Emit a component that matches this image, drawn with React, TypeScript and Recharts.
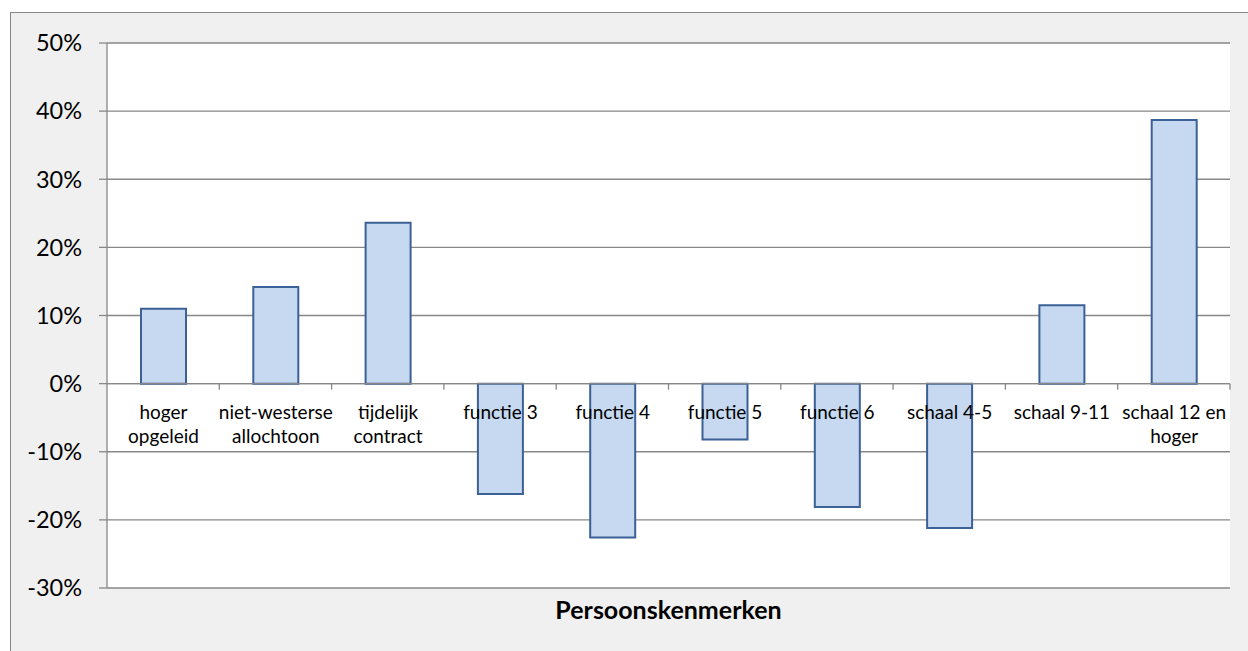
import React from "react";
import {
  Bar,
  BarChart,
  CartesianGrid,
  LabelList,
  ReferenceLine,
  XAxis,
  YAxis,
} from "recharts";

const categories = [
  "hoger opgeleid",
  "niet-westerse allochtoon",
  "tijdelijk contract",
  "functie 3",
  "functie 4",
  "functie 5",
  "functie 6",
  "schaal 4-5",
  "schaal 9-11",
  "schaal 12 en hoger",
];

// how Excel wrapped the category labels
const labelLines = [
  ["hoger", "opgeleid"],
  ["niet-westerse", "allochtoon"],
  ["tijdelijk", "contract"],
  ["functie 3"],
  ["functie 4"],
  ["functie 5"],
  ["functie 6"],
  ["schaal 4-5"],
  ["schaal 9-11"],
  ["schaal 12 en", "hoger"],
];

const values = [0.11, 0.142, 0.236, -0.162, -0.226, -0.082, -0.181, -0.212, 0.115, 0.387];

const yTicks = [-0.3, -0.2, -0.1, 0, 0.1, 0.2, 0.3, 0.4, 0.5];

const data = categories.map((name, i) => ({ name, value: values[i] }));

const GRID = "#878787";
const FONT = "Lato, 'Open Sans', sans-serif";

function pct(v: number) {
  return `${Math.round(v * 100)}%`;
}

// category label drawn just under the zero line, on top of the bars
function CategoryLabel(props: any) {
  const box = props.viewBox ?? props;
  const { x, y, width, height } = box;
  const value = Number(props.value);
  const zero = value >= 0 ? Math.max(y, y + height) : Math.min(y, y + height);
  const lines = labelLines[props.index] ?? [];
  const cx = x + width / 2;
  return (
    <text
      x={cx}
      y={zero + 27}
      textAnchor="middle"
      dominantBaseline="central"
      fontFamily={FONT}
      fontSize={19}
      fill="#000"
    >
      {lines.map((l, i) => (
        <tspan key={i} x={cx} dy={i === 0 ? 0 : 24}>
          {l}
        </tspan>
      ))}
    </text>
  );
}

// zero line with small tick marks at the category boundaries
function ZeroAxis(props: any) {
  const { x1, x2, y1 } = props;
  const band = (x2 - x1) / categories.length;
  return (
    <g>
      <line x1={x1} x2={x2} y1={y1} y2={y1} stroke={GRID} strokeWidth={1.3} />
      {categories.map((_, i) => (
        <line
          key={i}
          x1={x1 + band * (i + 1)}
          x2={x1 + band * (i + 1)}
          y1={y1}
          y2={y1 + 6}
          stroke={GRID}
          strokeWidth={1.3}
        />
      ))}
    </g>
  );
}

export default function App() {
  return (
    <div
      style={{
        position: "absolute",
        left: 0,
        top: 0,
        width: 1248,
        height: 651,
        background: "#fff",
        overflow: "hidden",
      }}
    >
      <div
        style={{
          position: "absolute",
          left: 10,
          top: 12,
          width: 1260,
          height: 660,
          border: `1.5px solid ${GRID}`,
          background: "#f0f0f0",
        }}
      />
      <div style={{ position: "absolute", left: 0, top: 0 }}>
        <BarChart
          width={1248}
          height={651}
          data={data}
          margin={{ top: 43, right: 18, bottom: 0, left: 0 }}
        >
          <CartesianGrid vertical={false} stroke={GRID} strokeWidth={1.3} fill="#fff" />
          <XAxis
            dataKey="name"
            height={63}
            tick={false}
            axisLine={false}
            tickLine={false}
            label={{
              value: "Persoonskenmerken",
              position: "insideTop",
              offset: 13,
              fontFamily: FONT,
              fontSize: 25,
              fontWeight: 700,
              fill: "#000",
            }}
          />
          <YAxis
            width={107}
            domain={[-0.3, 0.5]}
            ticks={yTicks}
            tickFormatter={pct}
            interval={0}
            tickSize={8}
            tickMargin={17}
            axisLine={{ stroke: GRID, strokeWidth: 1.3 }}
            tickLine={{ stroke: GRID, strokeWidth: 1.3 }}
            tick={{ fontFamily: FONT, fontSize: 23.5, fill: "#000" }}
          />
          <ReferenceLine y={0} shape={ZeroAxis} />
          <Bar
            dataKey="value"
            barSize={45}
            fill="#c6d9f1"
            stroke="#3b6196"
            strokeWidth={2}
            isAnimationActive={false}
          >
            <LabelList dataKey="value" content={CategoryLabel} />
          </Bar>
        </BarChart>
      </div>
    </div>
  );
}
